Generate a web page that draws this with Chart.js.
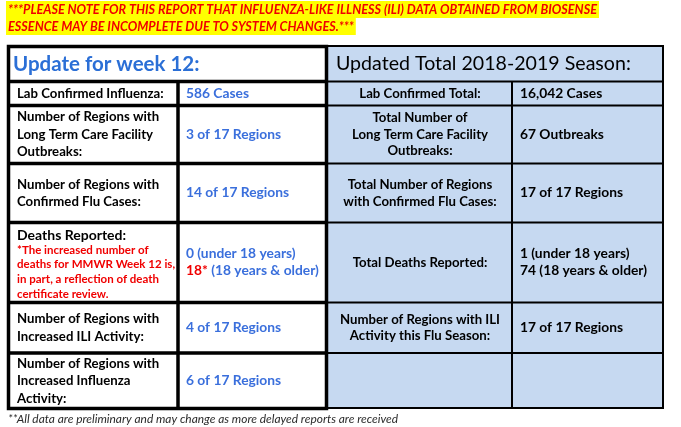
<!DOCTYPE html>
<html>
<head>
<meta charset="utf-8">
<script src="https://cdn.jsdelivr.net/npm/chart.js@4.4.1/dist/chart.umd.min.js"></script>
<style>
	html, body { margin: 0; padding: 0; background: #fff; }
	#wrap { width: 681px; height: 427px; }
</style>
</head>
<body>
<div id="wrap"><canvas id="report" width="681" height="427"></canvas></div>
<script>
const noticeLines = [
	'***PLEASE NOTE FOR THIS REPORT THAT INFLUENZA-LIKE ILLNESS (ILI) DATA OBTAINED FROM BIOSENSE',
	'ESSENCE MAY BE INCOMPLETE DUE TO SYSTEM CHANGES.***',
];
const weekTitle = 'Update for week 12:';
const seasonTitle = 'Updated Total 2018-2019 Season:';
const weekLabels = [
	['Lab Confirmed Influenza:'],
	['Number of Regions with', 'Long Term Care Facility', 'Outbreaks:'],
	['Number of Regions with', 'Confirmed Flu Cases:'],
	['Deaths Reported:'],
	['Number of Regions with', 'Increased ILI Activity:'],
	['Number of Regions with', 'Increased Influenza', 'Activity:'],
];
const weekValues = [
	['586 Cases'],
	['3 of 17 Regions'],
	['14 of 17 Regions'],
	['0 (under 18 years)', '18* (18 years & older)'],
	['4 of 17 Regions'],
	['6 of 17 Regions'],
];
const deathsNote = [
	'*The increased number of',
	'deaths for MMWR Week 12 is,',
	'in part, a reflection of death',
	'certificate review.',
];
const seasonLabels = [
	['Lab Confirmed Total:'],
	['Total Number of', 'Long Term Care Facility', 'Outbreaks:'],
	['Total Number of Regions', 'with Confirmed Flu Cases:'],
	['Total Deaths Reported:'],
	['Number of Regions with ILI', 'Activity this Flu Season:'],
	[],
];
const seasonValues = [
	['16,042 Cases'],
	['67 Outbreaks'],
	['17 of 17 Regions'],
	['1 (under 18 years)', '74 (18 years & older)'],
	['17 of 17 Regions'],
	[],
];
const footnote = '**All data are preliminary and may change as more delayed reports are received';

// layout, in page units (the chart scales map them to pixels)
const rowEdges = [46.5, 81.5, 105.5, 163.5, 222.5, 302.5, 353, 408.5];
const leftCols = [8.5, 178, 326.5];
const rightCols = [328, 512, 663];

const BLUE_FILL = '#c6d9f1';
const VALUE_BLUE = '#3a6fdc';
const TITLE_BLUE = '#2b6fd6';
const RED = '#f00000';

function lines(ctx, list, x, yMid, step, font, color, align) {
	ctx.font = font;
	ctx.fillStyle = color;
	ctx.textAlign = align;
	ctx.textBaseline = 'middle';
	const top = yMid - ((list.length - 1) * step) / 2;
	list.forEach((t, i) => ctx.fillText(t, x, top + i * step));
}

const tablePlugin = {
	id: 'reportTable',
	afterDraw(chart) {
		const { ctx } = chart;
		const px = (v) => chart.scales.x.getPixelForValue(v);
		const py = (v) => chart.scales.y.getPixelForValue(v);
		ctx.save();

		// notice with yellow highlight
		ctx.font = 'italic bold 13px Lato';
		const sx = 589 / ctx.measureText(noticeLines[0]).width;
		noticeLines.forEach((t, i) => {
			const w = ctx.measureText(t).width * sx;
			const top = py(1 + i * 17);
			ctx.fillStyle = '#ffff00';
			ctx.fillRect(px(6), top, w + 4, py(18 + i * 17) - top);
			ctx.save();
			ctx.translate(px(8), py(10 + i * 17));
			ctx.scale(sx, 1);
			ctx.fillStyle = RED;
			ctx.textBaseline = 'middle';
			ctx.textAlign = 'left';
			ctx.fillText(t, 0, 0);
			ctx.restore();
		});

		// right (season) box
		ctx.fillStyle = BLUE_FILL;
		ctx.fillRect(px(rightCols[0]), py(45), px(664) - px(rightCols[0]), py(409) - py(45));
		ctx.strokeStyle = '#000';
		ctx.lineWidth = 2;
		ctx.beginPath();
		ctx.moveTo(px(rightCols[0]), py(46));
		ctx.lineTo(px(rightCols[2]), py(46));
		ctx.lineTo(px(rightCols[2]), py(408));
		ctx.lineTo(px(rightCols[0]), py(408));
		for (let r = 1; r < rowEdges.length - 1; r++) {
			ctx.moveTo(px(rightCols[0]), py(rowEdges[r]));
			ctx.lineTo(px(rightCols[2]), py(rowEdges[r]));
		}
		ctx.moveTo(px(rightCols[1]), py(rowEdges[1]));
		ctx.lineTo(px(rightCols[1]), py(408));
		ctx.stroke();

		// left (week) box
		ctx.fillStyle = '#fff';
		ctx.fillRect(px(leftCols[0]), py(rowEdges[0]), px(leftCols[2]) - px(leftCols[0]), py(rowEdges[7]) - py(rowEdges[0]));
		ctx.lineWidth = 3.5;
		ctx.beginPath();
		ctx.rect(px(leftCols[0]), py(rowEdges[0]), px(leftCols[2]) - px(leftCols[0]), py(rowEdges[7]) - py(rowEdges[0]));
		for (let r = 1; r < rowEdges.length - 1; r++) {
			ctx.moveTo(px(leftCols[0]), py(rowEdges[r]));
			ctx.lineTo(px(leftCols[2]), py(rowEdges[r]));
		}
		ctx.moveTo(px(leftCols[1]), py(rowEdges[1]));
		ctx.lineTo(px(leftCols[1]), py(rowEdges[7]));
		ctx.stroke();

		// titles
		lines(ctx, [weekTitle], px(13), py(64), 0, 'bold 20.5px Lato', TITLE_BLUE, 'left');
		lines(ctx, [seasonTitle], px(336), py(64), 0, '19.6px Lato', '#000', 'left');

		const labelFont = 'bold 13.2px Lato';
		for (let r = 0; r < weekLabels.length; r++) {
			const mid = (py(rowEdges[r + 1]) + py(rowEdges[r + 2])) / 2;
			if (r === 3) {
				lines(ctx, weekLabels[r], px(17), py(235), 0, 'bold 14px Lato', '#000', 'left');
				lines(ctx, deathsNote, px(17), py(272), py(14.6) - py(0), 'bold 11.5px Lato', RED, 'left');
			} else {
				lines(ctx, weekLabels[r], px(17), mid, py(17.5) - py(0), labelFont, '#000', 'left');
			}
			// values, with a red footnote mark where present
			const vals = weekValues[r];
			const step = py(17) - py(0);
			const top = mid - ((vals.length - 1) * step) / 2;
			vals.forEach((t, i) => {
				const m = t.match(/^(\d+\*)(.*)$/);
				const y = top + i * step;
				ctx.font = 'bold 13.8px Lato';
				ctx.textBaseline = 'middle';
				ctx.textAlign = 'left';
				let x = px(186);
				if (m) {
					ctx.fillStyle = RED;
					ctx.fillText(m[1], x, y);
					x += ctx.measureText(m[1]).width;
					t = m[2];
				}
				ctx.fillStyle = VALUE_BLUE;
				ctx.fillText(t, x, y);
			});

			lines(ctx, seasonLabels[r], (px(rightCols[0]) + px(rightCols[1])) / 2, mid, py(16.5) - py(0), labelFont, '#000', 'center');
			lines(ctx, seasonValues[r], px(520), mid, py(17) - py(0), 'bold 13.8px Lato', '#000', 'left');
		}

		// footnote
		ctx.font = 'italic 12px Lato';
		ctx.fillStyle = '#2a2a2a';
		ctx.textAlign = 'left';
		ctx.textBaseline = 'middle';
		ctx.fillText(footnote, px(8), py(419), px(398) - px(8));

		ctx.restore();
	},
};

// eslint-disable-next-line no-new
new Chart(document.getElementById('report'), {
	type: 'scatter',
	data: { datasets: [{ data: [] }] },
	options: {
		responsive: false,
		animation: false,
		layout: { padding: 0 },
		plugins: { legend: { display: false }, tooltip: { enabled: false } },
		scales: {
			x: { type: 'linear', min: 0, max: 681, display: false },
			y: { type: 'linear', min: 0, max: 427, reverse: true, display: false },
		},
	},
	plugins: [tablePlugin],
});
</script>
</body>
</html>
